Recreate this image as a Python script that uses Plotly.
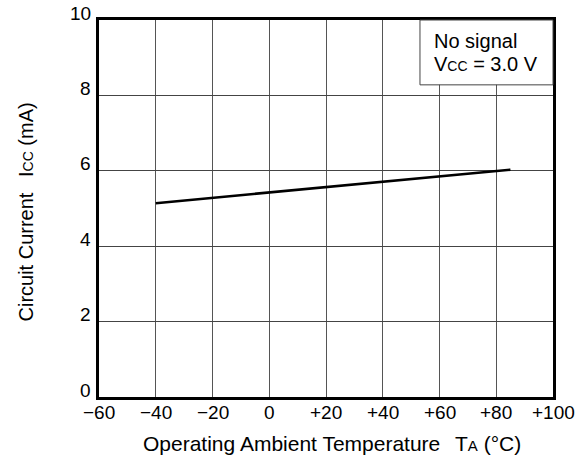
import plotly.graph_objects as go

temps = [-40, 85]
icc = [5.14, 6.03]
x_ticks = [-60, -40, -20, 0, 20, 40, 60, 80, 100]
x_labels = ["\u221260", "\u221240", "\u221220", "0", "+20", "+40", "+60", "+80", "+100"]
y_ticks = [0, 2, 4, 6, 8, 10]
y_labels = ["0", "2", "4", "6", "8", "10"]

FONT = "Liberation Sans, Arial, sans-serif"
TXT = dict(family=FONT, color="black")

fig = go.Figure()
fig.add_trace(go.Scatter(x=temps, y=icc, mode="lines",
                         line=dict(color="black", width=2.6), showlegend=False))

fig.update_layout(
    width=582, height=460,
    margin=dict(l=99, r=29, t=20, b=63),
    paper_bgcolor="white", plot_bgcolor="white",
    font=dict(family=FONT, size=19, color="black"),
    xaxis=dict(range=[-60, 100], tickvals=x_ticks, showticklabels=False,
               showgrid=True, gridcolor="#555", gridwidth=1,
               showline=True, linecolor="black", linewidth=2.6, mirror=True,
               ticks="", zeroline=False, automargin=False),
    yaxis=dict(range=[0, 10], tickvals=y_ticks, showticklabels=False,
               showgrid=True, gridcolor="#444", gridwidth=1,
               showline=True, linecolor="black", linewidth=2.6, mirror=True,
               ticks="", zeroline=False, automargin=False),
)

for v, lab in zip(y_ticks, y_labels):
    fig.add_annotation(xref="paper", yref="y", x=0, y=v, text=lab,
                       xanchor="right", yanchor="middle", xshift=-6, yshift=7,
                       showarrow=False, font=dict(size=19, **TXT))

for v, lab in zip(x_ticks, x_labels):
    fig.add_annotation(xref="x", yref="paper", x=v, y=0, text=lab,
                       xanchor="center", yanchor="middle", yshift=-15,
                       showarrow=False, font=dict(size=19, **TXT))

fig.add_annotation(xref="paper", yref="paper", x=0.5, y=0, xshift=6, yshift=-46,
                   xanchor="center", yanchor="middle", showarrow=False,
                   text="Operating Ambient Temperature\u2002\u2009T<span style='font-size:15px'>A</span> (\u00b0C)",
                   font=dict(size=21, **TXT))
fig.add_annotation(xref="paper", yref="paper", x=0, y=0.5, xshift=-74, yshift=-4,
                   xanchor="center", yanchor="middle", showarrow=False, textangle=-90,
                   text="Circuit Current \u2002I<span style='font-size:14px'>CC</span> (mA)",
                   font=dict(size=20, **TXT))

fig.add_shape(type="rect", xref="paper", yref="paper",
              x0=0.707, x1=1.0, y0=0.828, y1=1.0,
              line=dict(color="#444", width=1), fillcolor="white", layer="above")
fig.add_annotation(xref="paper", yref="paper", x=0.733, y=0.944,
                   xanchor="left", yanchor="middle", showarrow=False,
                   text="No signal", font=dict(size=20, **TXT))
fig.add_annotation(xref="paper", yref="paper", x=0.733, y=0.883,
                   xanchor="left", yanchor="middle", showarrow=False,
                   text="V<span style='font-size:14px'>CC</span> = 3.0 V",
                   font=dict(size=20, **TXT))

fig.write_html("out.html", config={"displayModeBar": False},
               post_script="document.body.style.margin='0';document.body.style.overflow='hidden';")
